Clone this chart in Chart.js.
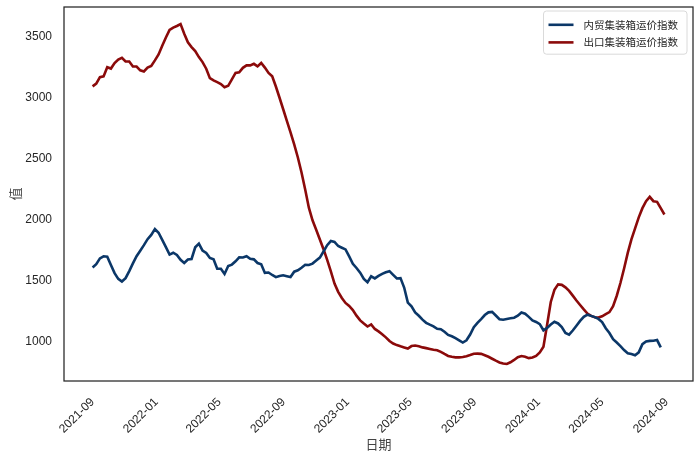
<!DOCTYPE html>
<html>
<head>
<meta charset="utf-8">
<script src="https://cdn.jsdelivr.net/npm/chart.js@4.4.1/dist/chart.umd.min.js"></script>
<style>
  html, body { margin: 0; padding: 0; background: #ffffff; }
  #wrap { width: 700px; height: 459px; position: relative; }
</style>
</head>
<body>
<div id="wrap"><canvas id="c" width="700" height="459"></canvas></div>
<script>
// ---- data (weekly) ----
const dates = [
  '2021-09-01','2021-09-08','2021-09-15','2021-09-22','2021-09-29','2021-10-06','2021-10-13','2021-10-20','2021-10-27','2021-11-03',
  '2021-11-10','2021-11-17','2021-11-24','2021-12-01','2021-12-08','2021-12-15','2021-12-22','2021-12-29',
  '2022-01-05','2022-01-12','2022-01-19','2022-01-26','2022-02-02','2022-02-09','2022-02-16','2022-02-23','2022-03-02','2022-03-09',
  '2022-03-16','2022-03-23','2022-03-30','2022-04-06','2022-04-13','2022-04-20','2022-04-27','2022-05-04','2022-05-11','2022-05-18',
  '2022-05-25','2022-06-01','2022-06-08','2022-06-15','2022-06-22','2022-06-29','2022-07-06','2022-07-13','2022-07-20','2022-07-27',
  '2022-08-03','2022-08-10','2022-08-17','2022-08-24','2022-08-31','2022-09-07','2022-09-14','2022-09-21','2022-09-28','2022-10-05',
  '2022-10-12','2022-10-19','2022-10-26','2022-11-02','2022-11-09','2022-11-16','2022-11-23','2022-11-30','2022-12-07','2022-12-14',
  '2022-12-21','2022-12-28',
  '2023-01-04','2023-01-11','2023-01-18','2023-01-25','2023-02-01','2023-02-08','2023-02-15','2023-02-22','2023-03-01','2023-03-08',
  '2023-03-15','2023-03-22','2023-03-29','2023-04-05','2023-04-12','2023-04-19','2023-04-26','2023-05-03','2023-05-10','2023-05-17',
  '2023-05-24','2023-05-31','2023-06-07','2023-06-14','2023-06-21','2023-06-28','2023-07-05','2023-07-12','2023-07-19','2023-07-26',
  '2023-08-02','2023-08-09','2023-08-16','2023-08-23','2023-08-30','2023-09-06','2023-09-13','2023-09-20','2023-09-27','2023-10-04',
  '2023-10-11','2023-10-18','2023-10-25','2023-11-01','2023-11-08','2023-11-15','2023-11-22','2023-11-29','2023-12-06','2023-12-13',
  '2023-12-20','2023-12-27',
  '2024-01-03','2024-01-10','2024-01-17','2024-01-24','2024-01-31','2024-02-07','2024-02-14','2024-02-21','2024-02-28','2024-03-06',
  '2024-03-13','2024-03-20','2024-03-27','2024-04-03','2024-04-10','2024-04-17','2024-04-24','2024-05-01','2024-05-08','2024-05-15',
  '2024-05-22','2024-05-29','2024-06-05','2024-06-12','2024-06-19','2024-06-26','2024-07-03','2024-07-10','2024-07-17','2024-07-24',
  '2024-07-31','2024-08-07','2024-08-14','2024-08-21','2024-08-28'
];

const domesticIndex = [ // 内贸集装箱运价指数
  1610,1636,1684,1701,1698,1629,1563,1516,1494,1522,
  1580,1643,1702,1747,1792,1841,1876,1924,1894,1836,
  1776,1715,1730,1712,1672,1646,1675,1679,1775,1805,
  1748,1728,1687,1676,1600,1599,1556,1621,1633,1660,
  1693,1691,1702,1680,1676,1646,1636,1565,1568,1548,
  1530,1540,1545,1538,1531,1575,1586,1607,1632,1630,
  1641,1666,1690,1740,1792,1826,1819,1785,1771,1757,
  1700,1640,1605,1567,1515,1488,1537,1520,1540,1557,
  1570,1579,1549,1519,1522,1445,1322,1291,1241,1214,
  1182,1156,1141,1127,1107,1104,1083,1057,1046,1031,
  1013,995,1013,1060,1120,1156,1187,1220,1242,1246,
  1216,1186,1182,1188,1193,1198,1214,1241,1231,1205,
  1176,1163,1145,1095,1115,1142,1165,1151,1122,1073,
  1059,1093,1132,1172,1205,1223,1213,1203,1188,1162,
  1112,1073,1022,995,966,933,907,901,891,914,
  981,1003,1008,1009,1015,955,null
];

const exportIndex = [ // 出口集装箱运价指数
  3092,3115,3168,3174,3249,3238,3283,3312,3326,3296,
  3296,3255,3255,3224,3214,3246,3260,3305,3354,3424,
  3492,3555,3574,3587,3603,3524,3453,3414,3381,3332,
  3291,3237,3160,3141,3127,3112,3085,3097,3150,3202,
  3207,3244,3264,3264,3277,3256,3284,3246,3202,3175,
  3091,2999,2905,2810,2716,2617,2510,2387,2248,2099,
  1996,1919,1839,1759,1671,1578,1478,1410,1360,1319,
  1294,1261,1215,1176,1150,1126,1143,1106,1086,1063,
  1037,1007,987,974,964,955,946,966,970,964,
  955,949,942,935,932,918,901,885,878,873,
  873,876,883,892,903,904,902,891,878,862,
  846,832,823,819,833,852,875,884,879,867,
  872,885,914,960,1140,1327,1426,1471,1467,1447,
  1418,1379,1339,1302,1266,1232,1213,1202,1200,1210,
  1228,1244,1292,1378,1482,1601,1729,1840,1930,2020,
  2095,2152,2188,2152,2147,2095,2043
];

const seriesNames = ['内贸集装箱运价指数', '出口集装箱运价指数'];
const seriesColors = ['#0b3768', '#8b0a0a'];
const xTickLabels = ['2021-09','2022-01','2022-05','2022-09','2023-01','2023-05','2023-09','2024-01','2024-05','2024-09'];
const yTickValues = [1000, 1500, 2000, 2500, 3000, 3500];
const xTitle = '日期';
const yTitle = '值';

// ---- helpers ----
const toTime = s => { const p = s.split('-').map(Number); return Date.UTC(p[0], p[1] - 1, p[2] || 1); };
const pts = vals => dates.map((d, i) => ({ x: toTime(d), y: vals[i] })).filter(p => p.y !== null);

const tFirst = toTime(dates[0]);
const tLast = toTime(dates[dates.length - 1]);
const pad = (tLast - tFirst) * 0.05;

const allVals = domesticIndex.concat(exportIndex).filter(v => v !== null);
const vMin = Math.min(...allVals), vMax = Math.max(...allVals);
const vPad = (vMax - vMin) * 0.05;

const tickFont = { family: "'Liberation Sans', Arial, sans-serif", size: 12 };
const cjk = "'Noto Sans CJK SC', 'Noto Sans', sans-serif";

const framePlugin = {
  id: 'frame',
  afterDraw(chart) {
    const { ctx, chartArea: a } = chart;
    ctx.save();
    ctx.strokeStyle = '#262626';
    ctx.lineWidth = 1.25;
    ctx.strokeRect(a.left, a.top, a.right - a.left, a.bottom - a.top);
    ctx.restore();
  }
};

const legendPlugin = {
  id: 'boxLegend',
  afterDraw(chart) {
    const { ctx, chartArea: a } = chart;
    const ds = chart.data.datasets;
    ctx.save();
    const fontSize = 10.5;
    ctx.font = fontSize + 'px ' + cjk;
    const rowH = 17.6;
    const lineLen = 25;
    const textGap = 10;
    const inner = 5;
    let maxW = 0;
    ds.forEach(d => { maxW = Math.max(maxW, ctx.measureText(d.label).width); });
    const w = inner + lineLen + textGap + maxW + inner + 4;
    const h = rowH * ds.length + 8;
    const x1 = a.right - 6 - w;
    const y1 = a.top + 4;
    ctx.beginPath();
    if (ctx.roundRect) ctx.roundRect(x1, y1, w, h, 3); else ctx.rect(x1, y1, w, h);
    ctx.fillStyle = 'rgba(255,255,255,0.85)';
    ctx.fill();
    ctx.strokeStyle = '#d0d0d0';
    ctx.lineWidth = 0.8;
    ctx.stroke();
    ds.forEach((d, i) => {
      const cy = y1 + 4 + rowH * i + rowH / 2 + 1;
      ctx.beginPath();
      ctx.strokeStyle = d.borderColor;
      ctx.lineWidth = d.borderWidth;
      ctx.moveTo(x1 + inner, cy);
      ctx.lineTo(x1 + inner + lineLen, cy);
      ctx.stroke();
      ctx.fillStyle = '#262626';
      ctx.textAlign = 'left';
      ctx.textBaseline = 'middle';
      ctx.fillText(d.label, x1 + inner + lineLen + textGap, cy);
    });
    ctx.restore();
  }
};

new Chart(document.getElementById('c'), {
  type: 'line',
  data: {
    datasets: [
      { label: seriesNames[0], data: pts(domesticIndex), borderColor: seriesColors[0], backgroundColor: seriesColors[0],
        borderWidth: 2.6, pointRadius: 0, tension: 0, fill: false },
      { label: seriesNames[1], data: pts(exportIndex), borderColor: seriesColors[1], backgroundColor: seriesColors[1],
        borderWidth: 2.6, pointRadius: 0, tension: 0, fill: false }
    ]
  },
  options: {
    responsive: false,
    animation: false,
    devicePixelRatio: 1,
    layout: { padding: { top: 7, right: 7, left: 0, bottom: 0 } },
    plugins: { legend: { display: false }, tooltip: { enabled: false } },
    scales: {
      x: {
        type: 'linear',
        min: tFirst - pad,
        max: tLast + pad,
        grid: { display: false, drawTicks: false },
        border: { display: false },
        afterBuildTicks: s => { s.ticks = xTickLabels.map(l => ({ value: toTime(l) })); },
        afterFit: s => { s.height = 78; s.paddingLeft = 0; s.paddingRight = 0; },
        ticks: {
          autoSkip: false,
          minRotation: 45, maxRotation: 45,
          padding: 14,
          color: '#262626',
          font: tickFont,
          callback: v => { const d = new Date(v); return d.getUTCFullYear() + '-' + String(d.getUTCMonth() + 1).padStart(2, '0'); }
        },
        title: { display: true, text: xTitle, color: '#444', font: { family: cjk, size: 13 }, padding: { top: 4, bottom: 7 } }
      },
      y: {
        min: vMin - vPad,
        max: vMax + vPad,
        grid: { display: false, drawTicks: false },
        border: { display: false },
        afterBuildTicks: s => { s.ticks = yTickValues.map(v => ({ value: v })); },
        afterFit: s => { s.width = 64; s.paddingTop = 0; s.paddingBottom = 0; },
        ticks: { padding: 12, color: '#262626', font: tickFont, callback: v => String(v) },
        title: { display: true, text: yTitle, color: '#444', font: { family: cjk, size: 13 }, padding: { top: 7, bottom: 4 } }
      }
    }
  },
  plugins: [framePlugin, legendPlugin]
});
</script>
</body>
</html>
